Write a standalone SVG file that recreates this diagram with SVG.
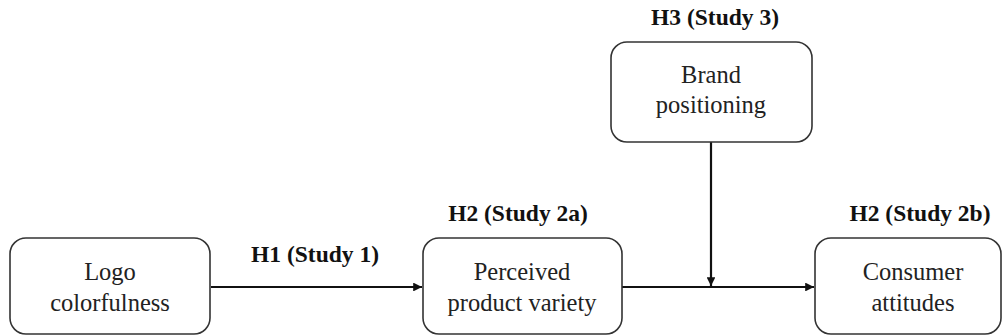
<svg xmlns="http://www.w3.org/2000/svg" width="1003" height="335" viewBox="0 0 1003 335">
<style>
.box{fill:#fff;stroke:#333;stroke-width:1.6}
.t{font-family:'Liberation Serif','DejaVu Serif',serif;font-size:24.5px;fill:#222;text-anchor:middle}
.h{font-family:'Liberation Serif','DejaVu Serif',serif;font-size:23.5px;font-weight:bold;fill:#111;text-anchor:middle}
.c{stroke:#111;stroke-width:2.2;fill:none}
</style>
<defs>
<marker id="ah" viewBox="0 0 10 10" refX="10" refY="5" markerWidth="4" markerHeight="4" orient="auto" markerUnits="strokeWidth">
<path d="M0,0 L10,5 L0,10 z" fill="#111"/>
</marker>
</defs>
<rect width="1003" height="335" fill="#fff"/>
<g id="connectors">
<line class="c" x1="211" y1="287" x2="422" y2="287" marker-end="url(#ah)"/>
<line class="c" x1="622" y1="287" x2="814" y2="287" marker-end="url(#ah)"/>
<line class="c" x1="711" y1="142" x2="711" y2="286" marker-end="url(#ah)"/>
<text class="h" x="315" y="262">H1 (Study 1)</text>
</g>
<g id="node-logo">
<rect class="box" x="10" y="238" width="200" height="96" rx="16"/>
<text class="t" x="110" y="280">Logo</text>
<text class="t" x="110" y="311">colorfulness</text>
</g>
<g id="node-variety">
<text class="h" x="518" y="221">H2 (Study 2a)</text>
<rect class="box" x="423" y="238" width="199" height="96" rx="16"/>
<text class="t" x="522" y="280">Perceived</text>
<text class="t" x="522" y="311">product variety</text>
</g>
<g id="node-brand">
<text class="h" x="715" y="25">H3 (Study 3)</text>
<rect class="box" x="611" y="42" width="201" height="100" rx="16"/>
<text class="t" x="711" y="83">Brand</text>
<text class="t" x="711" y="113">positioning</text>
</g>
<g id="node-attitudes">
<text class="h" x="920" y="221">H2 (Study 2b)</text>
<rect class="box" x="815" y="238" width="186" height="96" rx="16"/>
<text class="t" x="913" y="280">Consumer</text>
<text class="t" x="913" y="311">attitudes</text>
</g>
</svg>
